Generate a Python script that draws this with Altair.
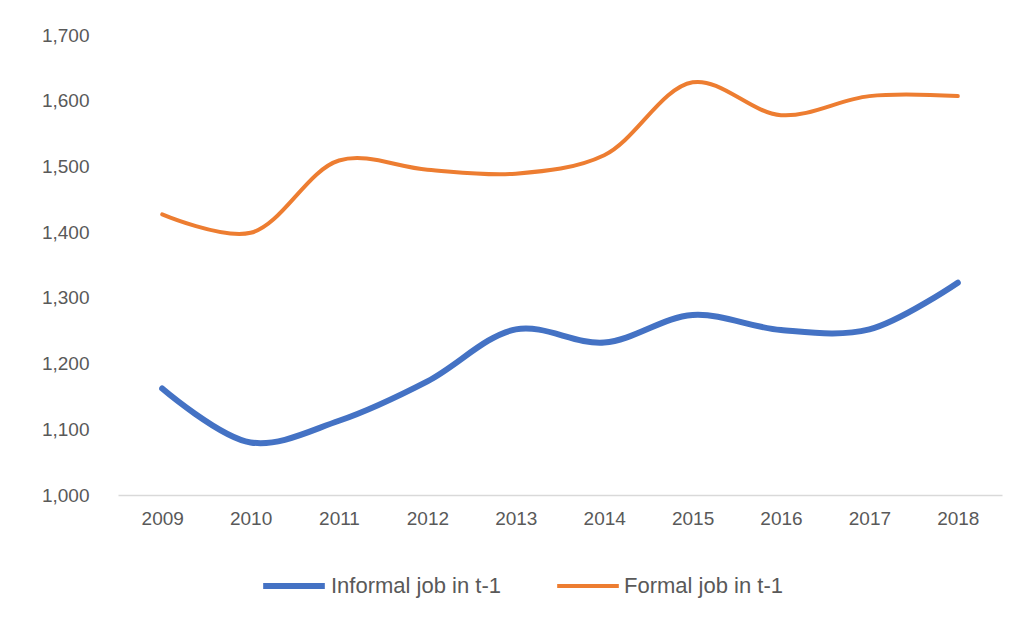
import altair as alt
import pandas as pd

years = ["2009", "2010", "2011", "2012", "2013", "2014", "2015", "2016", "2017", "2018"]
informal = [1162, 1080, 1113, 1173, 1252, 1232, 1274, 1251, 1252, 1323]
formal = [1427, 1399, 1509, 1495, 1489, 1517, 1628, 1578, 1607, 1607]
series = ["Informal job in t-1", "Formal job in t-1"]
colors = ["#4472C4", "#ED7D31"]
widths = [6, 4]

rows = []
for y, v in zip(years, informal):
    rows.append({"year": y, "value": v, "series": series[0]})
for y, v in zip(years, formal):
    rows.append({"year": y, "value": v, "series": series[1]})
df = pd.DataFrame(rows)

font = "Liberation Sans"

chart = alt.Chart(df).mark_line(interpolate="catmull-rom", strokeCap="round").encode(
    x=alt.X("year:O", sort=years, title=None,
            scale=alt.Scale(type="point", padding=0.5),
            axis=alt.Axis(labelAngle=0, domainColor="#D9D9D9", domainWidth=1.5, ticks=False,
                          labelPadding=14, labelFontSize=19, labelColor="#595959", labelFont=font,
                          grid=False)),
    y=alt.Y("value:Q", title=None,
            scale=alt.Scale(domain=[1000, 1700], nice=False, zero=False),
            axis=alt.Axis(values=[1000, 1100, 1200, 1300, 1400, 1500, 1600, 1700], format=",d",
                          domain=False, ticks=False, grid=False, labelPadding=29,
                          labelFontSize=19, labelColor="#595959", labelFont=font)),
    color=alt.Color("series:N", sort=series,
                    scale=alt.Scale(domain=series, range=colors),
                    legend=alt.Legend(title=None, orient="none", legendX=142, legendY=517,
                                      direction="horizontal", symbolType="stroke",
                                      symbolSize=3800, symbolStrokeWidth=5,
                                      labelFontSize=22, labelColor="#595959", labelFont=font,
                                      labelOffset=3, columnPadding=48, labelLimit=400)),
    strokeWidth=alt.StrokeWidth("series:N", sort=series,
                                scale=alt.Scale(domain=series, range=widths), legend=None),
).properties(
    width=884, height=460,
    autosize=alt.AutoSizeParams(type="none"),
    padding={"left": 110, "top": 27, "right": 20, "bottom": 120},
).configure_view(stroke=None)

chart.save("out.html", embed_options={"renderer": "svg", "actions": False})
